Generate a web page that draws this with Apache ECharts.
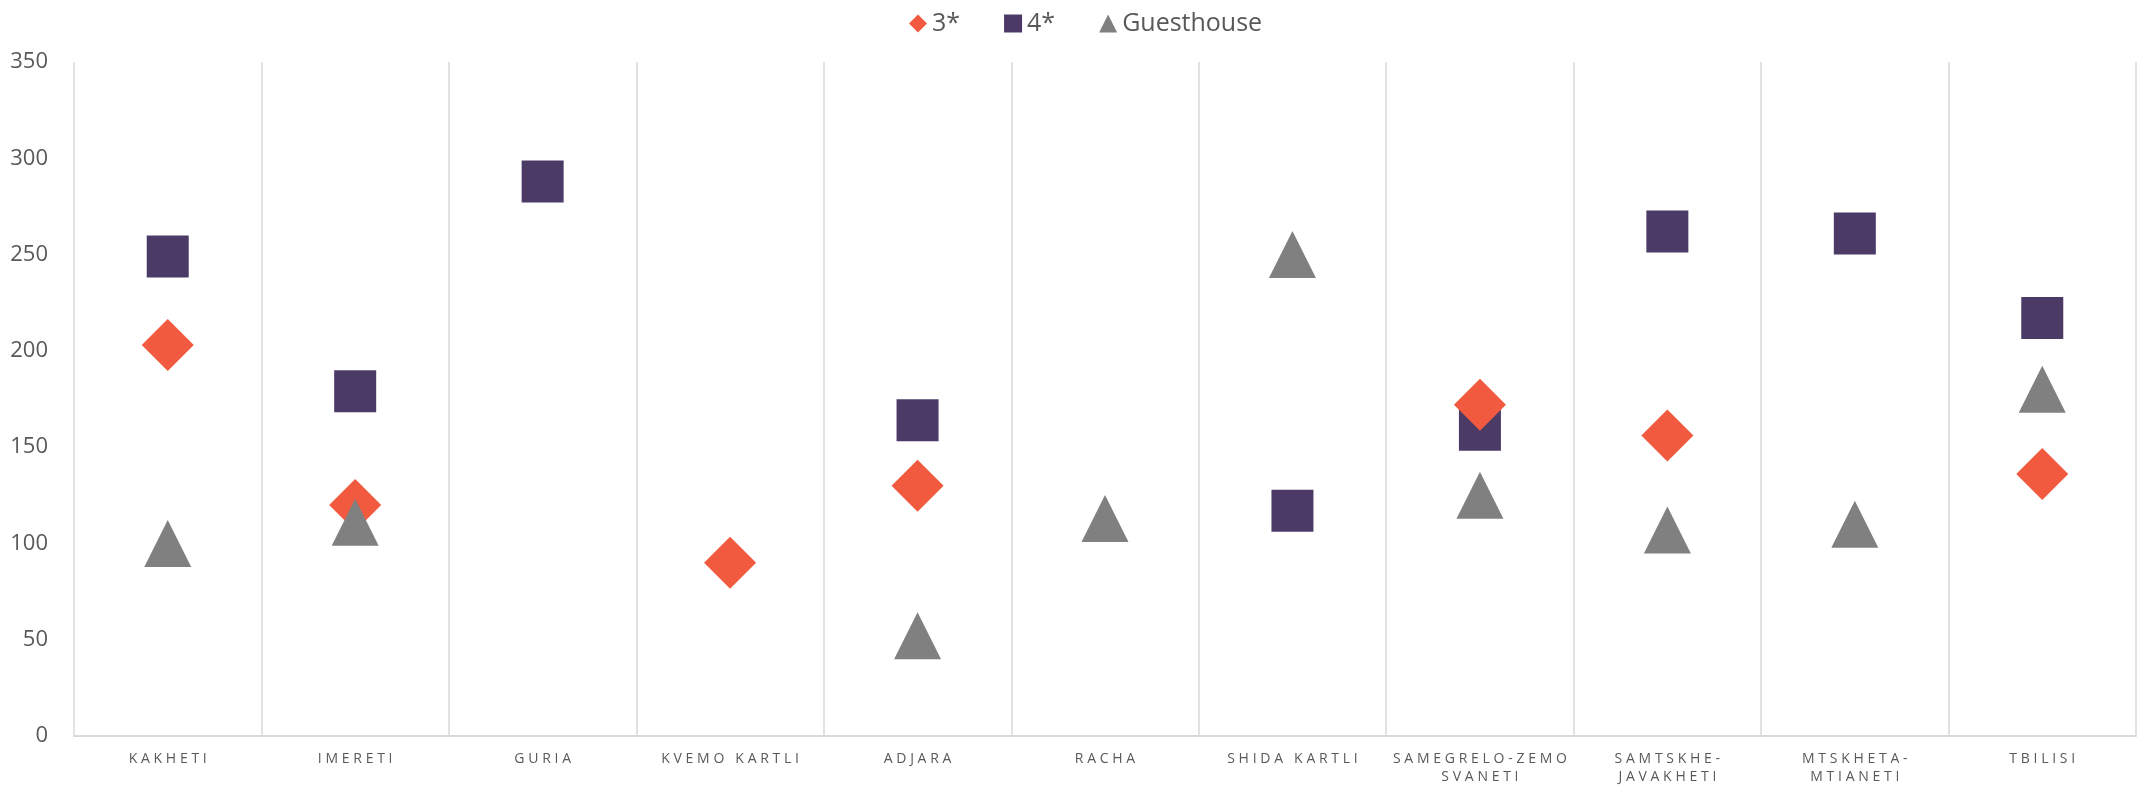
<!DOCTYPE html>
<html>
<head>
    <meta charset="utf-8">
    <title>Hotel prices by region</title>
    <style>
        html, body { margin: 0; padding: 0; background: #fff; }
        #main { width: 2139px; height: 789px; }
    </style>
</head>
<body>
    <div id="main"></div>
    <script src="https://cdn.jsdelivr.net/npm/echarts@6/dist/echarts.min.js"></script>
    <script type="text/javascript">
        // regions on the x axis
        var regions = ['KAKHETI', 'IMERETI', 'GURIA', 'KVEMO KARTLI', 'ADJARA', 'RACHA',
            'SHIDA KARTLI', 'SAMEGRELO-ZEMO SVANETI', 'SAMTSKHE-JAVAKHETI', 'MTSKHETA-MTIANETI', 'TBILISI'];

        // values, null = no marker
        var threeStar = [203, 120, null, 90, 130, null, null, 172, 156, null, 136];
        var fourStar = [249, 179, 288, null, 164, null, 117, 159, 262, 261, 217];
        var guesthouse = [100, 111, null, null, 52, 113, 250, 125, 107, 110, 180];

        var yTicks = { min: 0, max: 350, step: 50 };

        // spread the capitals a bit, and wrap the long names
        function spaced(s) {
            return s.split('').join('\u2009\u200a');
        }
        function wrapName(name) {
            if (name.length <= 14) return spaced(name);
            var i = name.lastIndexOf(' ');
            if (i > 0) return spaced(name.slice(0, i)) + '\n' + spaced(name.slice(i + 1));
            i = name.indexOf('-');
            return spaced(name.slice(0, i + 1)) + '\n' + spaced(name.slice(i + 1));
        }

        var myChart = echarts.init(document.getElementById('main'));
        var option = {
            backgroundColor: '#ffffff',
            animation: false,
            textStyle: { fontFamily: 'Open Sans' },
            legend: {
                data: ['3*', '4*', 'Guesthouse'],
                left: 904,
                top: 6,
                itemWidth: 18,
                itemHeight: 18,
                itemGap: 44,
                textStyle: { fontSize: 25, color: '#595959', fontFamily: 'Open Sans' }
            },
            grid: {
                left: 74,
                right: 3,
                top: 62,
                bottom: 53
            },
            xAxis: {
                type: 'category',
                data: regions,
                boundaryGap: true,
                axisTick: { show: false },
                axisLine: { lineStyle: { color: '#d9d9d9', width: 2 } },
                splitLine: { show: true, lineStyle: { color: '#d9d9d9', width: 1.5 } },
                axisLabel: {
                    interval: 0,
                    margin: 14,
                    fontSize: 14,
                    lineHeight: 18,
                    color: '#595959',
                    fontFamily: 'Open Sans',
                    formatter: wrapName
                }
            },
            yAxis: {
                type: 'value',
                min: yTicks.min,
                max: yTicks.max,
                interval: yTicks.step,
                axisLine: { show: false },
                axisTick: { show: false },
                splitLine: { show: false },
                axisLabel: { fontSize: 22, color: '#595959', margin: 26, fontFamily: 'Open Sans' }
            },
            series: [
                {
                    name: '3*',
                    type: 'scatter',
                    symbol: 'diamond',
                    symbolSize: 52,
                    z: 3,
                    itemStyle: { color: '#f15a3e', opacity: 1 },
                    data: threeStar
                },
                {
                    name: '4*',
                    type: 'scatter',
                    symbol: 'rect',
                    symbolSize: 42,
                    z: 2,
                    itemStyle: { color: '#4b3a66', opacity: 1 },
                    data: fourStar
                },
                {
                    name: 'Guesthouse',
                    type: 'scatter',
                    symbol: 'triangle',
                    symbolSize: 47,
                    z: 4,
                    itemStyle: { color: '#808080', opacity: 1 },
                    data: guesthouse
                }
            ]
        };
        myChart.setOption(option);
    </script>
</body>
</html>
